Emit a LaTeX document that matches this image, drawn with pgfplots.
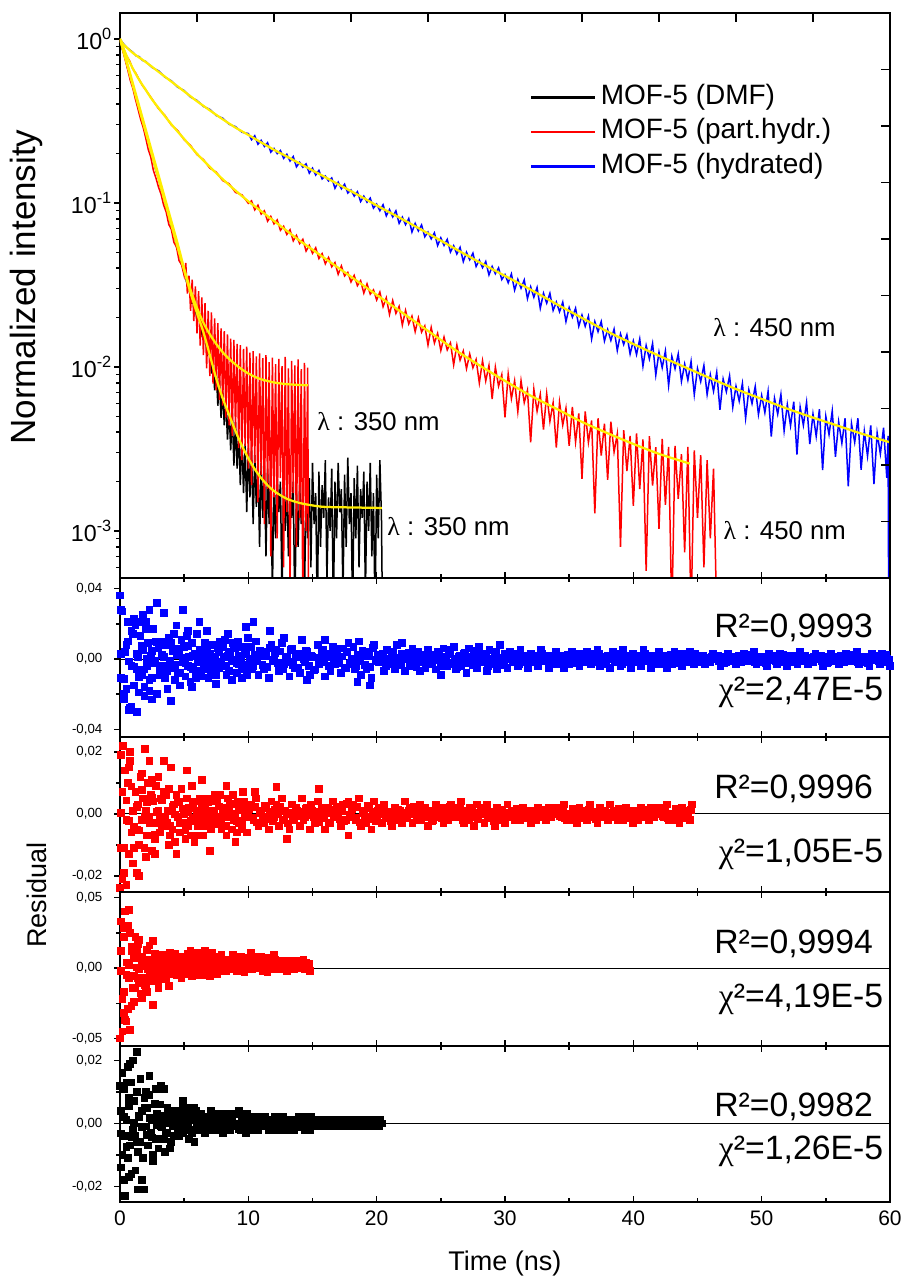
\documentclass[border=0pt]{standalone}
\usepackage{fontspec}
\setmainfont{Liberation Sans}
\newfontfamily\greekfont{Liberation Serif}
\usepackage{pgfplots}
\pgfplotsset{compat=1.18}

\definecolor{fityellow}{RGB}{255,238,0}
\definecolor{pblue}{RGB}{0,0,255}
\definecolor{pred}{RGB}{255,0,0}

\pgfplotsset{
  panel/.style={
    anchor=north west, scale only axis, width=308pt,
    xmin=0, xmax=60,
    axis line style={line width=0.6pt},
    every tick/.style={black, line width=0.6pt},
    major tick length=2.3pt, minor tick length=1.5pt,
    xtick={0,10,...,60}, minor xtick={5,15,...,55},
    xtick align=inside, ytick align=outside,
    xtick pos=both, ytick pos=left,
    xticklabels={}, scaled y ticks=false,
    yticklabel style={font=\fontsize{5.3}{6}\selectfont, inner xsep=4.6pt},
  },
  res/.style={only marks, mark=square*, mark size=1.35pt, forget plot},
  zero/.style={black, line width=0.4pt, no marks, forget plot},
  decay/.style={line width=0.6pt, no marks, forget plot},
  fit/.style={fityellow, line width=0.9pt, no marks, forget plot, smooth},
}
\tikzset{
  lamlabel/.style={anchor=west, inner sep=0pt, font=\fontsize{10.3}{12}\selectfont},
  stat/.style={anchor=east, inner sep=0pt, font=\fontsize{13.5}{15}\selectfont},
}

\newcommand\lam{{\greekfont λ}}
\newcommand\chisq{{\greekfont χ}²}

\begin{document}
\begin{tikzpicture}
\useasboundingbox (-48pt,5.2pt) rectangle (314.4pt,-508pt);

% ---------------- decay curves ----------------
\begin{axis}[panel, at={(0pt,0pt)}, height=226pt,
  ymode=log, ymin=5.16e-4, ymax=1.44,
  xtick pos=bottom,
  ytick={0.001,0.01,0.1,1},
  yticklabels={10\textsuperscript{-3},10\textsuperscript{-2},10\textsuperscript{-1},10\textsuperscript{0}},
  minor ytick={0.0006,0.0007,0.0008,0.0009,0.002,0.003,0.004,0.005,0.006,0.007,0.008,0.009,0.02,0.03,0.04,0.05,0.06,0.07,0.08,0.09,0.2,0.3,0.4,0.5,0.6,0.7,0.8,0.9},
  yticklabel style={font=\fontsize{9.3}{11}\selectfont, inner xsep=0.5pt},
  ylabel={Normalized intensity},
  ylabel style={font=\fontsize{14}{16}\selectfont, at={(axis description cs:-0.122,0.515)}, anchor=center},
  legend style={draw=none, fill=none, at={(axis description cs:0.532,0.882)}, anchor=north west,
    font=\fontsize{11.2}{13}\selectfont, inner sep=0pt, row sep=0pt,
    nodes={text height=7.8pt, text depth=2.4pt, inner sep=1.8pt}},
  legend cell align=left,
  legend image code/.code={\draw[#1] (0pt,0pt) -- (25.6pt,0pt);},
  legend entries={MOF-5 (DMF), MOF-5 (part.hydr.), MOF-5 (hydrated)},
]
\addlegendimage{black, line width=0.9pt}
\addlegendimage{pred, line width=0.9pt}
\addlegendimage{pblue, line width=0.9pt}

% MOF-5 (DMF), 350 nm
\addplot[decay, black] coordinates {
(0,1.0) (0.2,0.86) (0.4,0.77) (0.6,0.66) (0.8,0.6) (1,0.52) (1.2,0.46) (1.4,0.41) (1.6,0.35) (1.8,0.315)
(2,0.27) (2.2,0.245) (2.4,0.205) (2.6,0.183) (2.8,0.157) (3,0.142) (3.2,0.121) (3.4,0.110) (3.6,0.092) (3.8,0.0845)
(4,0.071) (4.2,0.066) (4.4,0.054) (4.6,0.0505) (4.8,0.042) (5,0.0395) (5.2,0.0325) (5.4,0.0305) (5.6,0.0245) (5.8,0.0245)
(6,0.0195) (6.2,0.0205) (6.4,0.0155) (6.6,0.0162) (6.8,0.0118) (7,0.0125)
(7.125,0.0091) (7.25,0.0112) (7.375,0.0072) (7.5,0.0094) (7.625,0.0058) (7.75,0.0083) (7.875,0.0049) (8,0.0071)
(8.125,0.0044) (8.25,0.0063) (8.375,0.0036) (8.5,0.0056) (8.625,0.0031) (8.75,0.0052) (8.875,0.0025) (9,0.0046)
(9.125,0.0024) (9.25,0.0041) (9.375,0.0019) (9.5,0.0038) (9.625,0.0017) (9.75,0.0034) (9.875,0.0013) (10,0.0032)
(10.125,0.0016) (10.25,0.0031) (10.375,0.0011) (10.5,0.0029) (10.625,0.0014) (10.75,0.0027) (10.875,0.0008) (11,0.0026)
(11.125,0.0012) (11.25,0.0025) (11.375,0.0007) (11.5,0.0024) (11.625,0.0011) (11.75,0.0023) (11.875,0.0004) (12,0.0022)
(12.125,0.0009) (12.25,0.0021) (12.375,0.0013) (12.5,0.0020) (12.625,0.0004) (12.75,0.0021) (12.875,0.0010) (13,0.0019)
(13.125,0.0007) (13.25,0.0018) (13.375,0.0012) (13.5,0.0020) (13.625,0.0003) (13.75,0.0017) (13.875,0.0008) (14,0.0019)
(14.125,0.0011) (14.25,0.0016) (14.375,0.0004) (14.5,0.0018) (14.625,0.0009) (14.75,0.0021) (14.875,0.0006) (15,0.0026)
(15.125,0.0011) (15.25,0.0017) (15.375,0.0003) (15.5,0.0023) (15.625,0.0008) (15.75,0.0019) (15.875,0.0012) (16,0.0027)
(16.125,0.0005) (16.25,0.0016) (16.375,0.0010) (16.5,0.0024) (16.625,0.0003) (16.75,0.0020) (16.875,0.0009) (17,0.0026)
(17.125,0.0013) (17.25,0.0018) (17.375,0.0004) (17.5,0.0022) (17.625,0.0008) (17.75,0.0028) (17.875,0.0011) (18,0.0017)
(18.125,0.0003) (18.25,0.0021) (18.375,0.0009) (18.5,0.0025) (18.625,0.0006) (18.75,0.0018) (18.875,0.0012) (19,0.0023)
(19.125,0.0004) (19.25,0.0020) (19.375,0.0010) (19.5,0.0026) (19.625,0.0007) (19.75,0.0017) (19.875,0.0003) (20,0.0022)
(20.125,0.0009) (20.25,0.0027) (20.375,0.0012) (20.45,0.0003)
};

% MOF-5 (part.hydr.), 350 nm
\addplot[decay, pred] coordinates {
(0,1.0) (0.2,0.86) (0.4,0.75) (0.6,0.65) (0.8,0.56) (1,0.5) (1.2,0.43) (1.4,0.375) (1.6,0.325) (1.8,0.29)
(2,0.25) (2.2,0.212) (2.4,0.19) (2.6,0.158) (2.8,0.142) (3,0.125) (3.2,0.113) (3.4,0.097) (3.6,0.088) (3.8,0.074)
(4,0.069) (4.2,0.0575) (4.4,0.054) (4.6,0.0445) (4.8,0.042) (5,0.036)
(5.125,0.043) (5.25,0.028) (5.375,0.036) (5.5,0.022) (5.625,0.034) (5.75,0.019) (5.875,0.031) (6,0.016)
(6.125,0.029) (6.25,0.0135) (6.375,0.0265) (6.5,0.0118) (6.625,0.0245) (6.75,0.0098) (6.875,0.022) (7,0.0088)
(7.125,0.0215) (7.25,0.0079) (7.375,0.0198) (7.5,0.0072) (7.625,0.0185) (7.75,0.0063) (7.875,0.0172) (8,0.0058)
(8.125,0.0165) (8.25,0.0049) (8.375,0.0158) (8.5,0.0044) (8.625,0.0149) (8.75,0.0038) (8.875,0.0146) (9,0.0041)
(9.125,0.0138) (9.25,0.0032) (9.375,0.0136) (9.5,0.0027) (9.625,0.0129) (9.75,0.0033) (9.875,0.0133) (10,0.0024)
(10.125,0.0122) (10.25,0.0019) (10.375,0.0125) (10.5,0.0026) (10.625,0.0116) (10.75,0.0015) (10.875,0.0121) (11,0.0022)
(11.125,0.0113) (11.25,0.0011) (11.375,0.0118) (11.5,0.0018) (11.625,0.0107) (11.75,0.0007) (11.875,0.0114) (12,0.0016)
(12.125,0.0104) (12.25,0.0009) (12.375,0.0112) (12.5,0.0021) (12.625,0.0101) (12.75,0.0006) (12.875,0.0115) (13,0.0013)
(13.125,0.0098) (13.25,0.0004) (13.375,0.0109) (13.5,0.0017) (13.625,0.0102) (13.75,0.0008) (13.875,0.0111) (14,0.0012)
(14.125,0.0097) (14.25,0.0003) (14.375,0.0106) (14.5,0.0010) (14.625,0.0099) (14.7,0.0003)
};

% MOF-5 (part.hydr.), 450 nm
\addplot[decay, pred] coordinates {
(0,1.0) (0.25,0.89) (0.5,0.79) (0.75,0.735) (1,0.655) (1.25,0.615) (1.5,0.565) (1.75,0.52) (2,0.49) (2.5,0.43)
(3,0.376) (3.5,0.342) (4,0.299) (4.5,0.276) (5,0.243) (5.5,0.224) (6,0.197) (6.5,0.184) (7,0.163) (7.5,0.154)
(8,0.137) (8.5,0.131) (9,0.116) (9.5,0.112) (10,0.0995)
(10.25,0.103) (10.5,0.0907) (10.75,0.0969) (11,0.0855) (11.25,0.0895) (11.5,0.0774) (11.75,0.0828) (12,0.0745)
(12.25,0.0788) (12.5,0.0681) (12.75,0.0721) (13,0.0642) (13.25,0.0686) (13.5,0.0587) (13.75,0.0634) (14,0.0565)
(14.25,0.0600) (14.5,0.0509) (14.75,0.0552) (15,0.0493) (15.25,0.0533) (15.5,0.0458) (15.75,0.0491) (16,0.0425)
(16.25,0.0465) (16.5,0.0408) (16.75,0.0433) (17,0.0367) (17.25,0.0413) (17.5,0.0359) (17.75,0.0377) (18,0.0330)
(18.25,0.0361) (18.5,0.0313) (18.75,0.0336) (19,0.0282) (19.25,0.0321) (19.5,0.0278) (19.75,0.0295) (20,0.0256)
(20.25,0.0286) (20.5,0.0233) (20.75,0.0264) (21,0.0209) (21.25,0.0254) (21.5,0.0212) (21.75,0.0234) (22,0.0180)
(22.25,0.0221) (22.5,0.0183) (22.75,0.0204) (23,0.0164) (23.25,0.0199) (23.5,0.0163) (23.75,0.0178) (24,0.0136)
(24.25,0.0174) (24.5,0.0140) (24.75,0.0160) (25,0.0126) (25.25,0.0152) (25.5,0.0127) (25.75,0.0140) (26,0.0103)
(26.25,0.0136) (26.5,0.0110) (26.75,0.0125) (27,0.00976) (27.25,0.0120) (27.5,0.00988) (27.75,0.0111) (28,0.00798)
(28.25,0.0109) (28.5,0.00822) (28.75,0.0102) (29,0.00638) (29.25,0.00997) (29.5,0.00763) (29.75,0.00896) (30,0.00493)
(30.25,0.00906) (30.5,0.00641) (30.75,0.00822) (31,0.00534) (31.25,0.00824) (31.5,0.00606) (31.75,0.0072) (32,0.00347)
(32.25,0.00731) (32.5,0.00537) (32.75,0.0068) (33,0.00415) (33.25,0.00687) (33.5,0.00466) (33.75,0.00604) (34,0.00322)
(34.25,0.00609) (34.5,0.00442) (34.75,0.0056) (35,0.0033) (35.25,0.0057) (35.5,0.00349) (35.75,0.0052) (36,0.00208)
(36.25,0.00535) (36.5,0.00347) (36.75,0.00471) (37,0.00128) (37.25,0.00486) (37.5,0.00288) (37.75,0.0045) (38,0.00205)
(38.25,0.00463) (38.5,0.00303) (38.75,0.0039) (39,0.0008) (39.25,0.00411) (39.5,0.00232) (39.75,0.0038) (40,0.00142)
(40.25,0.00393) (40.5,0.0018) (40.75,0.00361) (41,0.00057) (41.25,0.00378) (41.5,0.00189) (41.75,0.00324) (42,0.00103)
(42.25,0.00364) (42.5,0.00144) (42.75,0.00325) (43,0.0003) (43.25,0.0033) (43.5,0.00157) (43.75,0.00294) (44,0.00074)
(44.25,0.00325) (44.5,0.0003) (44.75,0.0031) (45,0.0012) (45.25,0.0029) (45.5,0.0006) (45.75,0.0027) (46,0.0009)
(46.25,0.0024) (46.5,0.0003)
};

% MOF-5 (hydrated), 450 nm
\addplot[decay, pblue] coordinates {
(0,1.0) (0.25,0.94) (0.5,0.89) (0.75,0.86) (1,0.83) (1.25,0.79) (1.5,0.78) (1.75,0.74) (2,0.73) (2.5,0.67)
(3,0.64) (3.5,0.585) (4,0.556) (4.5,0.508) (5,0.485) (5.5,0.442) (6,0.422) (6.5,0.388) (7,0.372) (7.5,0.341)
(8,0.329) (8.5,0.302) (9,0.292) (9.5,0.270) (10,0.265)
(10.25,0.243) (10.5,0.257) (10.75,0.228) (11,0.241) (11.25,0.221) (11.5,0.233) (11.75,0.204) (12,0.215)
(12.25,0.200) (12.5,0.209) (12.75,0.187) (13,0.198) (13.25,0.180) (13.5,0.192) (13.75,0.166) (14,0.177)
(14.25,0.165) (14.5,0.173) (14.75,0.152) (15,0.163) (15.25,0.148) (15.5,0.158) (15.75,0.140) (16,0.146)
(16.25,0.136) (16.5,0.142) (16.75,0.123) (17,0.134) (17.25,0.122) (17.5,0.130) (17.75,0.115) (18,0.120)
(18.25,0.110) (18.5,0.117) (18.75,0.102) (19,0.110) (19.25,0.101) (19.5,0.107) (19.75,0.093) (20,0.0985)
(20.25,0.0896) (20.5,0.0975) (20.75,0.0835) (21,0.0912) (21.25,0.0822) (21.5,0.0895) (21.75,0.0751) (22,0.0820)
(22.25,0.0738) (22.5,0.0803) (22.75,0.0665) (23,0.0750) (23.25,0.0675) (23.5,0.0734) (23.75,0.0622) (24,0.0665)
(24.25,0.0604) (24.5,0.0657) (24.75,0.0550) (25,0.0613) (25.25,0.0551) (25.5,0.0599) (25.75,0.0502) (26,0.0548)
(26.25,0.0488) (26.5,0.0536) (26.75,0.0439) (27,0.0500) (27.25,0.0450) (27.5,0.0494) (27.75,0.0410) (28,0.0448)
(28.25,0.0403) (28.5,0.0439) (28.75,0.0364) (29,0.0410) (29.25,0.0370) (29.5,0.0402) (29.75,0.0341) (30,0.0366)
(30.25,0.0326) (30.5,0.0369) (30.75,0.0294) (31,0.0342) (31.25,0.0302) (31.5,0.0339) (31.75,0.0261) (32,0.0308)
(32.25,0.0266) (32.5,0.0305) (32.75,0.0228) (33,0.0281) (33.25,0.0245) (33.5,0.0281) (33.75,0.0221) (34,0.0249)
(34.25,0.0217) (34.5,0.0248) (34.75,0.0189) (35,0.0230) (35.25,0.0201) (35.5,0.0228) (35.75,0.0177) (36,0.0207)
(36.25,0.0177) (36.5,0.0204) (36.75,0.0148) (37,0.0189) (37.25,0.0164) (37.5,0.0189) (37.75,0.0144) (38,0.0169)
(38.25,0.0145) (38.5,0.0170) (38.75,0.0126) (39,0.0159) (39.25,0.0137) (39.5,0.0157) (39.75,0.0120) (40,0.0144)
(40.25,0.0119) (40.5,0.0148) (40.75,0.0101) (41,0.0135) (41.25,0.0112) (41.5,0.0139) (41.75,0.00893) (42,0.0123)
(42.25,0.00989) (42.5,0.0125) (42.75,0.0077) (43,0.0116) (43.25,0.00975) (43.5,0.0120) (43.75,0.00816) (44,0.0104)
(44.25,0.00832) (44.5,0.0108) (44.75,0.00678) (45,0.00978) (45.25,0.00815) (45.5,0.0102) (45.75,0.00679) (46,0.00896)
(46.25,0.00711) (46.5,0.00928) (46.75,0.00547) (47,0.00844) (47.25,0.00705) (47.5,0.00883) (47.75,0.00568) (48,0.00762)
(48.25,0.0062) (48.5,0.00793) (48.75,0.00487) (49,0.00725) (49.25,0.00598) (49.5,0.0076) (49.75,0.00513) (50,0.0067)
(50.25,0.00527) (50.5,0.0071) (50.75,0.00376) (51,0.00644) (51.25,0.00516) (51.5,0.0068) (51.75,0.00408) (52,0.00589)
(52.25,0.00438) (52.5,0.00613) (52.75,0.00292) (53,0.00568) (53.25,0.00441) (53.5,0.00607) (53.75,0.00339) (54,0.00516)
(54.25,0.00378) (54.5,0.00552) (54.75,0.00235) (55,0.00499) (55.25,0.00387) (55.5,0.00539) (55.75,0.00283) (56,0.00462)
(56.25,0.00343) (56.5,0.00486) (56.75,0.00187) (57,0.00451) (57.25,0.00347) (57.5,0.00486) (57.75,0.00236) (58,0.00406)
(58.25,0.00286) (58.5,0.0044) (58.75,0.00193) (59,0.00395) (59.25,0.00295) (59.5,0.00426) (59.75,0.00211) (59.85,0.0038)
(59.9,0.0003) (60,0.0035)
};

% fitted curves
\addplot[fit] coordinates {
(0,1) (0.5,0.721) (1,0.519) (1.5,0.374) (2,0.27) (2.5,0.1945) (3,0.1404) (3.5,0.1014) (4,0.0734) (4.5,0.0532)
(5,0.0387) (5.5,0.0282) (6,0.0213) (6.5,0.0163) (7,0.0118) (7.5,0.0085) (8,0.00645) (8.5,0.00511) (9,0.00406)
(9.5,0.00331) (10,0.00277) (10.5,0.00238) (11,0.0021) (11.5,0.0019) (12,0.00175) (13,0.00157) (14,0.00148)
(15,0.00143) (16,0.0014) (18,0.00139) (20.4,0.00138)
};
\addplot[fit] coordinates {
(0,1) (0.5,0.741) (1,0.537) (1.5,0.389) (2,0.282) (2.5,0.204) (3,0.148) (3.5,0.107) (4,0.0776) (4.5,0.0562)
(5,0.0398) (5.5,0.0295) (6,0.0229) (6.5,0.0186) (7,0.0158) (7.5,0.0138) (8,0.0123) (8.5,0.0112) (9,0.01035)
(9.5,0.00966) (10,0.00912) (10.5,0.00871) (11,0.00841) (12,0.00804) (13,0.00785) (14,0.00776) (14.65,0.00773)
};
\addplot[fit] coordinates {
(0,1) (0.5,0.794) (1,0.661) (1.5,0.562) (2,0.49) (2.5,0.427) (3,0.38) (4,0.302) (5,0.2455) (6,0.1995) (7,0.166)
(8,0.1396) (9,0.119) (10,0.1023) (11,0.0891) (12,0.0776) (13,0.0676) (14,0.0589) (15,0.0519) (16,0.0457)
(18,0.0355) (20,0.0275) (22,0.0214) (24,0.0166) (26,0.01288) (28,0.01023) (30,0.00822) (32,0.00668) (34,0.00556)
(36,0.00462) (38,0.00394) (40,0.00339) (42,0.00295) (44,0.00263) (44.4,0.00257)
};
\addplot[fit] coordinates {
(0,1) (0.25,0.93) (0.5,0.891) (1,0.822) (1.5,0.77) (2,0.724) (3,0.631) (4,0.55) (5,0.479) (6,0.417) (7,0.367)
(8,0.324) (9,0.288) (10,0.26) (11,0.234) (12,0.211) (13,0.192) (14,0.174) (15,0.158) (16,0.1435) (17,0.13)
(18,0.118) (19,0.107) (20,0.0966) (22,0.0796) (24,0.0652) (26,0.0532) (28,0.0435) (30,0.0359) (32,0.0296)
(34,0.0242) (36,0.0199) (38,0.0164) (40,0.0138) (42,0.0117) (44,0.00998) (46,0.00853) (48,0.00733) (50,0.00638)
(52,0.00556) (54,0.00491) (56,0.00436) (58,0.00387) (60,0.00347)
};

\node[lamlabel] at (axis cs:46.2,0.0173) {\lam{} : 450 nm};
\node[lamlabel] at (axis cs:47.0,0.00101) {\lam{} : 450 nm};
\node[lamlabel] at (axis cs:15.35,0.00462) {\lam{} : 350 nm};
\node[lamlabel] at (axis cs:20.8,0.00106) {\lam{} : 350 nm};
\end{axis}

% opposite axes of the top panel, evenly divided
\begin{axis}[anchor=north west, at={(0pt,0pt)}, scale only axis, width=308pt, height=226pt,
  xmin=0, xmax=10, ymin=0, ymax=10,
  axis x line*=top, axis y line*=right,
  axis line style={line width=0.6pt, -},
  every tick/.style={black, line width=0.6pt},
  tick align=inside, major tick length=3.8pt,
  xtick={1,...,9}, ytick={1,...,9}, xticklabels={}, yticklabels={}]
\end{axis}

% ---------------- residuals: hydrated 450 nm ----------------
\begin{axis}[panel, at={(0pt,-226pt)}, height=63.6pt,
  ymin=-0.0443, ymax=0.046,
  ytick={-0.04,0,0.04}, yticklabels={{-0,04},{0,00},{0,04}}, minor ytick={-0.02,0.02}]
\addplot[res, pblue] coordinates {
(0.0,0.036) (0.1,-0.011) (0.2,0.027) (0.3,-0.023) (0.4,0.004) (0.5,-0.017) (0.6,0.010) (0.7,-0.029) (0.8,0.021) (0.9,-0.004)
(1.0,0.014) (1.1,-0.015) (1.2,0.019) (1.3,-0.006) (1.4,0.001) (1.5,-0.019) (1.6,0.013) (1.7,-0.009) (1.8,0.005) (1.9,-0.016)
(2.0,0.021) (2.1,-0.004) (2.2,0.009) (2.3,-0.018) (2.4,0.002) (2.5,-0.011) (2.6,0.017) (2.7,-0.001) (2.8,0.010) (2.9,-0.020)
(3.0,0.006) (3.1,-0.009) (3.2,0.010) (3.3,-0.004) (3.4,0.001) (3.5,-0.011) (3.6,0.008) (3.7,-0.007) (3.8,0.012) (3.9,-0.002)
(4.0,0.009) (4.1,-0.005) (4.2,0.014) (4.3,-0.012) (4.4,0.002) (4.5,-0.008) (4.6,0.005) (4.7,-0.015) (4.8,0.011) (4.9,-0.002)
(5.0,0.007) (5.1,-0.010) (5.2,0.013) (5.3,-0.004) (5.4,0.001) (5.5,-0.013) (5.6,0.009) (5.7,-0.006) (5.8,0.003) (5.9,-0.011)
(6.0,0.014) (6.1,-0.002) (6.2,0.005) (6.3,-0.010) (6.4,0.001) (6.5,-0.006) (6.6,0.009) (6.7,-0.001) (6.8,0.005) (6.9,-0.011)
(7.0,0.003) (7.1,-0.007) (7.2,0.008) (7.3,-0.003) (7.4,0.001) (7.5,-0.009) (7.6,0.006) (7.7,-0.005) (7.8,0.010) (7.9,-0.002)
(8.0,0.007) (8.1,-0.004) (8.2,0.011) (8.3,-0.009) (8.4,0.002) (8.5,-0.007) (8.6,0.004) (8.7,-0.012) (8.8,0.009) (8.9,-0.001)
(9.0,0.006) (9.1,-0.008) (9.2,0.010) (9.3,-0.003) (9.4,0.001) (9.5,-0.011) (9.6,0.007) (9.7,-0.005) (9.8,0.003) (9.9,-0.009)
(10.0,0.012)
(0.05,0.028) (0.6,0.021) (0.8,-0.028) (1.3,-0.030) (0.9,-0.027) (1.1,0.023) (1.6,0.021) (1.8,0.025) (2.3,0.028) (2.86,0.032)
(2.5,-0.023) (3.4,0.026) (4.0,-0.024) (4.9,0.028) (4.4,0.019) (3.7,-0.017) (5.6,-0.016) (6.2,0.021) (6.8,0.016) (7.5,-0.014)
(8.4,0.014) (9.8,0.018) (10.4,0.021) (11.7,0.016) (12.8,0.012) (14.6,-0.012) (18.5,-0.013) (19.5,-0.015) (0.3,-0.020) (1.9,-0.021)
(2.0,0.017) (5.3,0.016) (16.0,0.011) (22,0.009) (25,-0.009)
(10.2,0.007) (10.4,-0.004) (10.6,0.010) (10.8,-0.009) (11.0,0.002) (11.2,-0.006) (11.4,0.004) (11.6,-0.011) (11.8,0.008) (12.0,-0.001)
(12.2,0.005) (12.4,-0.007) (12.6,0.009) (12.8,-0.003) (13.0,0.001) (13.2,-0.010) (13.4,0.006) (13.6,-0.005) (13.8,0.003) (14.0,-0.008)
(14.2,0.011) (14.4,-0.002) (14.6,0.004) (14.8,-0.009) (15.0,0.001) (15.2,-0.006) (15.4,0.008) (15.6,-0.001) (15.8,0.005) (16.0,-0.010)
(16.2,0.003) (16.4,-0.007) (16.6,0.007) (16.8,-0.003) (17.0,0.001) (17.2,-0.008) (17.4,0.006) (17.6,-0.005) (17.8,0.009) (18.0,-0.002)
(18.2,0.007) (18.4,-0.004) (18.6,0.010) (18.8,-0.009) (19.0,0.002) (19.2,-0.006) (19.4,0.004) (19.6,-0.011) (19.8,0.008) (20.0,-0.001)
(20.2,-0.002) (20.4,0.000) (20.6,-0.007) (20.8,0.005) (21.0,-0.003) (21.2,0.002) (21.4,-0.006) (21.6,0.008) (21.8,-0.001) (22.0,0.003)
(22.2,-0.007) (22.4,0.001) (22.6,-0.004) (22.8,0.006) (23.0,0.000) (23.2,0.004) (23.4,-0.007) (23.6,0.002) (23.8,-0.005) (24.0,0.005)
(24.2,-0.002) (24.4,0.001) (24.6,-0.006) (24.8,0.004) (25.0,-0.004) (25.2,0.006) (25.4,-0.001) (25.6,0.005) (25.8,-0.003) (26.0,0.007)
(26.2,-0.006) (26.4,0.001) (26.6,-0.004) (26.8,0.003) (27.0,-0.008) (27.2,0.006) (27.4,-0.001) (27.6,0.004) (27.8,-0.005) (28.0,0.007)
(28.2,-0.002) (28.4,0.000) (28.6,-0.007) (28.8,0.005) (29.0,-0.003) (29.2,0.002) (29.4,-0.006) (29.6,0.008) (29.8,-0.001) (30.0,0.003)
(30.2,-0.005) (30.4,0.004) (30.6,-0.001) (30.8,0.003) (31.0,-0.004) (31.2,0.005) (31.4,-0.002) (31.6,0.000) (31.8,-0.005) (32.0,0.003)
(32.2,-0.002) (32.4,0.001) (32.6,-0.004) (32.8,0.005) (33.0,-0.001) (33.2,0.002) (33.4,-0.005) (33.6,0.001) (33.8,-0.003) (34.0,0.004)
(34.2,0.000) (34.4,0.002) (34.6,-0.005) (34.8,0.002) (35.0,-0.003) (35.2,0.004) (35.4,-0.001) (35.6,0.000) (35.8,-0.004) (36.0,0.003)
(36.2,-0.002) (36.4,0.004) (36.6,-0.001) (36.8,0.003) (37.0,-0.002) (37.2,0.005) (37.4,-0.004) (37.6,0.001) (37.8,-0.003) (38.0,0.002)
(38.2,-0.005) (38.4,0.004) (38.6,-0.001) (38.8,0.003) (39.0,-0.004) (39.2,0.005) (39.4,-0.002) (39.6,0.000) (39.8,-0.005) (40.0,0.003)
(40.2,-0.002) (40.4,0.001) (40.6,-0.004) (40.8,0.005) (41.0,-0.001) (41.2,0.002) (41.4,-0.005) (41.6,0.001) (41.8,-0.003) (42.0,0.004)
(42.2,0.000) (42.4,0.002) (42.6,-0.005) (42.8,0.002) (43.0,-0.003) (43.2,0.004) (43.4,-0.001) (43.6,0.000) (43.8,-0.004) (44.0,0.003)
(44.2,-0.002) (44.4,0.004) (44.6,-0.001) (44.8,0.003) (45.0,-0.002) (45.2,-0.001) (45.4,0.002) (45.6,-0.003) (45.8,0.000) (46.0,-0.002)
(46.2,0.003) (46.4,0.000) (46.6,0.002) (46.8,-0.004) (47.0,0.001) (47.2,-0.002) (47.4,0.003) (47.6,-0.001) (47.8,0.000) (48.0,-0.003)
(48.2,0.002) (48.4,-0.002) (48.6,0.003) (48.8,-0.001) (49.0,0.002) (49.2,-0.001) (49.4,0.004) (49.6,-0.003) (49.8,0.001) (50.0,-0.002)
(50.2,0.001) (50.4,-0.004) (50.6,0.003) (50.8,0.000) (51.0,0.002) (51.2,-0.003) (51.4,0.003) (51.6,-0.001) (51.8,0.000) (52.0,-0.004)
(52.2,0.002) (52.4,-0.002) (52.6,0.001) (52.8,-0.003) (53.0,0.004) (53.2,-0.001) (53.4,0.002) (53.6,-0.003) (53.8,0.000) (54.0,-0.002)
(54.2,0.003) (54.4,0.000) (54.6,0.002) (54.8,-0.004) (55.0,0.001) (55.2,-0.002) (55.4,0.003) (55.6,-0.001) (55.8,0.000) (56.0,-0.003)
(56.2,0.002) (56.4,-0.002) (56.6,0.003) (56.8,-0.001) (57.0,0.002) (57.2,-0.001) (57.4,0.004) (57.6,-0.003) (57.8,0.001) (58.0,-0.002)
(58.2,0.001) (58.4,-0.004) (58.6,0.003) (58.8,0.000) (59.0,0.002) (59.2,-0.003) (59.4,0.003) (59.6,-0.001) (59.8,0.000) (60.0,-0.004)
};
\addplot[res, pblue] coordinates {
(0.1,0.0027) (0.3,-0.0112) (0.5,0.0079) (0.7,-0.0014) (0.9,0.0157) (1.1,-0.0043) (1.3,0.0027) (1.5,-0.0103) (1.7,0.0075) (1.9,-0.0060)
(2.1,0.0003) (2.3,-0.0118) (2.5,0.0047) (2.7,-0.0025) (2.9,0.0095) (3.1,-0.0049) (3.3,0.0024) (3.5,-0.0061) (3.7,0.0086) (3.9,-0.0010)
(4.1,0.0044) (4.3,-0.0033) (4.5,0.0058) (4.7,-0.0077) (4.9,0.0005) (5.1,-0.0023) (5.3,0.0073) (5.5,-0.0044) (5.7,0.0015) (5.9,-0.0065)
(6.1,0.0029) (6.3,-0.0002) (6.5,0.0048) (6.7,-0.0041) (6.9,0.0022) (7.1,-0.0067) (7.3,0.0008) (7.5,-0.0029) (7.7,0.0039) (7.9,-0.0015)
(8.1,0.0011) (8.3,-0.0043) (8.5,0.0031) (8.7,-0.0006) (8.9,0.0061) (9.1,-0.0023) (9.3,0.0015) (9.5,-0.0055) (9.7,0.0041) (9.9,-0.0032)
(10.1,0.0001) (10.3,-0.0060) (10.5,0.0024) (10.7,-0.0013) (10.9,0.0048) (11.1,-0.0036) (11.3,0.0018) (11.5,-0.0045) (11.7,0.0063) (11.9,-0.0007)
(12.1,0.0032) (12.3,-0.0024) (12.5,0.0042) (12.7,-0.0056) (12.9,0.0004) (13.1,-0.0017) (13.3,0.0053) (13.5,-0.0032) (13.7,0.0011) (13.9,-0.0048)
(14.1,0.0027) (14.3,-0.0002) (14.5,0.0046) (14.7,-0.0038) (14.9,0.0020) (15.1,-0.0063) (15.3,0.0008) (15.5,-0.0028) (15.7,0.0036) (15.9,-0.0015)
(16.1,0.0010) (16.3,-0.0041) (16.5,0.0029) (16.7,-0.0005) (16.9,0.0057) (17.1,-0.0022) (17.3,0.0014) (17.5,-0.0052) (17.7,0.0038) (17.9,-0.0030)
(18.1,0.0001) (18.3,-0.0060) (18.5,0.0024) (18.7,-0.0013) (18.9,0.0048) (19.1,-0.0036) (19.3,0.0018) (19.5,-0.0045) (19.7,0.0063) (19.9,-0.0007)
(20.1,0.0024) (20.3,-0.0018) (20.5,0.0031) (20.7,-0.0041) (20.9,0.0003) (21.1,-0.0012) (21.3,0.0039) (21.5,-0.0024) (21.7,0.0008) (21.9,-0.0035)
(22.1,0.0020) (22.3,-0.0001) (22.5,0.0033) (22.7,-0.0028) (22.9,0.0015) (23.1,-0.0046) (23.3,0.0006) (23.5,-0.0020) (23.7,0.0026) (23.9,-0.0011)
(24.1,0.0007) (24.3,-0.0030) (24.5,0.0021) (24.7,-0.0004) (24.9,0.0042) (25.1,-0.0016) (25.3,0.0010) (25.5,-0.0038) (25.7,0.0028) (25.9,-0.0022)
(26.1,0.0001) (26.3,-0.0044) (26.5,0.0017) (26.7,-0.0009) (26.9,0.0035) (27.1,-0.0026) (27.3,0.0013) (27.5,-0.0033) (27.7,0.0046) (27.9,-0.0005)
(28.1,0.0024) (28.3,-0.0018) (28.5,0.0031) (28.7,-0.0041) (28.9,0.0003) (29.1,-0.0012) (29.3,0.0039) (29.5,-0.0024) (29.7,0.0008) (29.9,-0.0035)
(30.1,0.0014) (30.3,-0.0001) (30.5,0.0023) (30.7,-0.0019) (30.9,0.0010) (31.1,-0.0031) (31.3,0.0004) (31.5,-0.0014) (31.7,0.0018) (31.9,-0.0007)
(32.1,0.0005) (32.3,-0.0020) (32.5,0.0015) (32.7,-0.0003) (32.9,0.0029) (33.1,-0.0011) (33.3,0.0007) (33.5,-0.0026) (33.7,0.0019) (33.9,-0.0015)
(34.1,0.0001) (34.3,-0.0030) (34.5,0.0012) (34.7,-0.0006) (34.9,0.0024) (35.1,-0.0018) (35.3,0.0009) (35.5,-0.0022) (35.7,0.0031) (35.9,-0.0004)
(36.1,0.0016) (36.3,-0.0012) (36.5,0.0021) (36.7,-0.0028) (36.9,0.0002) (37.1,-0.0009) (37.3,0.0027) (37.5,-0.0016) (37.7,0.0006) (37.9,-0.0024)
(38.1,0.0014) (38.3,-0.0001) (38.5,0.0023) (38.7,-0.0019) (38.9,0.0010) (39.1,-0.0031) (39.3,0.0004) (39.5,-0.0014) (39.7,0.0018) (39.9,-0.0007)
(40.1,0.0005) (40.3,-0.0020) (40.5,0.0015) (40.7,-0.0003) (40.9,0.0029) (41.1,-0.0011) (41.3,0.0007) (41.5,-0.0026) (41.7,0.0019) (41.9,-0.0015)
(42.1,0.0001) (42.3,-0.0030) (42.5,0.0012) (42.7,-0.0006) (42.9,0.0024) (43.1,-0.0018) (43.3,0.0009) (43.5,-0.0022) (43.7,0.0031) (43.9,-0.0004)
(44.1,0.0016) (44.3,-0.0012) (44.5,0.0021) (44.7,-0.0028) (44.9,0.0002) (45.1,-0.0006) (45.3,0.0019) (45.5,-0.0012) (45.7,0.0004) (45.9,-0.0017)
(46.1,0.0010) (46.3,-0.0001) (46.5,0.0017) (46.7,-0.0014) (46.9,0.0007) (47.1,-0.0023) (47.3,0.0003) (47.5,-0.0010) (47.7,0.0013) (47.9,-0.0005)
(48.1,0.0004) (48.3,-0.0015) (48.5,0.0011) (48.7,-0.0002) (48.9,0.0021) (49.1,-0.0008) (49.3,0.0005) (49.5,-0.0019) (49.7,0.0014) (49.9,-0.0011)
(50.1,0.0000) (50.3,-0.0022) (50.5,0.0009) (50.7,-0.0005) (50.9,0.0018) (51.1,-0.0013) (51.3,0.0006) (51.5,-0.0016) (51.7,0.0023) (51.9,-0.0003)
(52.1,0.0012) (52.3,-0.0009) (52.5,0.0015) (52.7,-0.0020) (52.9,0.0001) (53.1,-0.0006) (53.3,0.0019) (53.5,-0.0012) (53.7,0.0004) (53.9,-0.0017)
(54.1,0.0010) (54.3,-0.0001) (54.5,0.0017) (54.7,-0.0014) (54.9,0.0007) (55.1,-0.0023) (55.3,0.0003) (55.5,-0.0010) (55.7,0.0013) (55.9,-0.0005)
(56.1,0.0004) (56.3,-0.0015) (56.5,0.0011) (56.7,-0.0002) (56.9,0.0021) (57.1,-0.0008) (57.3,0.0005) (57.5,-0.0019) (57.7,0.0014) (57.9,-0.0011)
(58.1,0.0000) (58.3,-0.0022) (58.5,0.0009) (58.7,-0.0005) (58.9,0.0018) (59.1,-0.0013) (59.3,0.0006) (59.5,-0.0016) (59.7,0.0023) (59.9,-0.0003)
};
\addplot[zero] coordinates {(0,0) (60,0)};
\node[stat] at (axis cs:58.7,0.0176) {R²=0,9993};
\node[stat] at (axis cs:59.5,-0.0187) {\chisq=2,47E-5};
\end{axis}

% ---------------- residuals: part. hydr. 450 nm ----------------
\begin{axis}[panel, at={(0pt,-289.6pt)}, height=62pt,
  ymin=-0.0252, ymax=0.0248,
  ytick={-0.02,0,0.02}, yticklabels={{-0,02},{0,00},{0,02}}, minor ytick={-0.01,0.01}]
\addplot[res, pred] coordinates {
(0.0,-0.024) (0.1,-0.011) (0.2,0.007) (0.3,-0.019) (0.4,0.014) (0.5,-0.002) (0.6,0.010) (0.7,-0.013) (0.8,0.017) (0.9,-0.006)
(1.0,0.001) (1.1,-0.011) (1.2,0.007) (1.3,-0.005) (1.4,0.003) (1.5,-0.010) (1.6,0.012) (1.7,-0.002) (1.8,0.005) (1.9,-0.011)
(2.0,0.001) (2.1,-0.007) (2.2,0.010) (2.3,-0.001) (2.4,0.006) (2.5,-0.012) (2.6,0.004) (2.7,-0.008) (2.8,0.009) (2.9,-0.003)
(3.0,0.001) (3.1,-0.006) (3.2,0.005) (3.3,-0.004) (3.4,0.007) (3.5,-0.001) (3.6,0.006) (3.7,-0.003) (3.8,0.008) (3.9,-0.007)
(4.0,0.001) (4.1,-0.005) (4.2,0.003) (4.3,-0.009) (4.4,0.006) (4.5,-0.001) (4.6,0.004) (4.7,-0.006) (4.8,0.008) (4.9,-0.003)
(5.0,0.000) (5.1,-0.008) (5.2,0.005) (5.3,-0.004) (5.4,0.002) (5.5,-0.007) (5.6,0.009) (5.7,-0.002) (5.8,0.004) (5.9,-0.007)
(6.0,0.001) (6.1,-0.004) (6.2,0.005) (6.3,0.000) (6.4,0.003) (6.5,-0.007) (6.6,0.002) (6.7,-0.004) (6.8,0.005) (6.9,-0.002)
(7.0,0.001) (7.1,-0.005) (7.2,0.004) (7.3,-0.003) (7.4,0.006) (7.5,-0.001) (7.6,0.004) (7.7,-0.002) (7.8,0.006) (7.9,-0.005)
(8.0,0.001) (8.1,-0.004) (8.2,0.002) (8.3,-0.007) (8.4,0.005) (8.5,-0.001) (8.6,0.003) (8.7,-0.005) (8.8,0.006) (8.9,-0.002)
(9.0,0.000) (9.1,-0.006) (9.2,0.004) (9.3,-0.003) (9.4,0.002) (9.5,-0.005) (9.6,0.007) (9.7,-0.001) (9.8,0.003) (9.9,-0.006)
(10.0,0.001)
(0.05,0.019) (0.2,-0.021) (0.26,0.022) (0.5,-0.023) (0.8,0.020) (1.0,-0.016) (1.3,-0.019) (1.5,-0.020) (1.95,0.021) (2.0,-0.014)
(2.3,0.017) (2.7,-0.013) (3.0,0.012) (3.4,0.017) (4.0,0.015) (4.4,-0.013) (5.2,0.014) (6.4,0.011) (7.0,-0.012) (8.3,0.009)
(9.0,-0.009) (12.2,0.0086) (13.0,-0.008) (15.5,0.008) (17.8,-0.007) (0.7,0.015) (1.7,0.013) (2.5,0.011) (3.8,-0.010) (5.8,-0.009)
(10.5,0.007)
(10.2,0.003) (10.4,-0.002) (10.6,0.005) (10.8,-0.004) (11.0,0.001) (11.2,-0.003) (11.4,0.002) (11.6,-0.005) (11.8,0.004) (12.0,-0.001)
(12.2,0.003) (12.4,-0.004) (12.6,0.005) (12.8,-0.002) (13.0,0.000) (13.2,-0.005) (13.4,0.003) (13.6,-0.002) (13.8,0.001) (14.0,-0.004)
(14.2,0.005) (14.4,-0.001) (14.6,0.002) (14.8,-0.005) (15.0,0.001) (15.2,-0.003) (15.4,0.004) (15.6,0.000) (15.8,0.002) (16.0,-0.005)
(16.2,0.002) (16.4,-0.003) (16.6,0.004) (16.8,-0.001) (17.0,0.000) (17.2,-0.004) (17.4,0.003) (17.6,-0.002) (17.8,0.004) (18.0,-0.001)
(18.2,0.003) (18.4,-0.002) (18.6,0.005) (18.8,-0.004) (19.0,0.001) (19.2,-0.003) (19.4,0.002) (19.6,-0.005) (19.8,0.004) (20.0,-0.001)
(20.2,0.002) (20.4,-0.003) (20.6,0.003) (20.8,-0.001) (21.0,0.000) (21.2,-0.004) (21.4,0.002) (21.6,-0.002) (21.8,0.001) (22.0,-0.003)
(22.2,0.004) (22.4,-0.001) (22.6,0.002) (22.8,-0.003) (23.0,0.000) (23.2,-0.002) (23.4,0.003) (23.6,0.000) (23.8,0.002) (24.0,-0.004)
(24.2,0.001) (24.4,-0.002) (24.6,0.003) (24.8,-0.001) (25.0,0.000) (25.2,-0.003) (25.4,0.002) (25.6,-0.002) (25.8,0.003) (26.0,-0.001)
(26.2,0.002) (26.4,-0.001) (26.6,0.004) (26.8,-0.003) (27.0,0.001) (27.2,-0.002) (27.4,0.001) (27.6,-0.004) (27.8,0.003) (28.0,0.000)
(28.2,0.002) (28.4,-0.003) (28.6,0.003) (28.8,-0.001) (29.0,0.000) (29.2,-0.004) (29.4,0.002) (29.6,-0.002) (29.8,0.001) (30.0,-0.003)
(30.2,0.003) (30.4,-0.001) (30.6,0.001) (30.8,-0.002) (31.0,0.000) (31.2,-0.002) (31.4,0.002) (31.6,0.000) (31.8,0.001) (32.0,-0.003)
(32.2,0.001) (32.4,-0.002) (32.6,0.002) (32.8,-0.001) (33.0,0.000) (33.2,-0.002) (33.4,0.002) (33.6,-0.001) (33.8,0.002) (34.0,0.000)
(34.2,0.002) (34.4,-0.001) (34.6,0.003) (34.8,-0.002) (35.0,0.000) (35.2,-0.002) (35.4,0.001) (35.6,-0.003) (35.8,0.002) (36.0,0.000)
(36.2,0.001) (36.4,-0.002) (36.6,0.003) (36.8,-0.001) (37.0,0.000) (37.2,-0.003) (37.4,0.002) (37.6,-0.001) (37.8,0.001) (38.0,-0.002)
(38.2,0.003) (38.4,-0.001) (38.6,0.001) (38.8,-0.002) (39.0,0.000) (39.2,-0.002) (39.4,0.002) (39.6,0.000) (39.8,0.001) (40.0,-0.003)
(40.2,0.001) (40.4,-0.002) (40.6,0.002) (40.8,-0.001) (41.0,0.000) (41.2,-0.002) (41.4,0.002) (41.6,-0.001) (41.8,0.002) (42.0,0.000)
(42.2,0.002) (42.4,-0.001) (42.6,0.003) (42.8,-0.002) (43.0,0.000) (43.2,-0.002) (43.4,0.001) (43.6,-0.003) (43.8,0.002) (44.0,0.000)
(44.2,0.001) (44.4,-0.002) (44.6,0.003)
};
\addplot[res, pred] coordinates {
(0.1,0.0002) (0.3,-0.0109) (0.5,0.0043) (0.7,-0.0023) (0.9,0.0088) (1.1,-0.0043) (1.3,0.0022) (1.5,-0.0054) (1.7,0.0076) (1.9,-0.0009)
(2.1,0.0039) (2.3,-0.0030) (2.5,0.0051) (2.7,-0.0068) (2.9,0.0005) (3.1,-0.0014) (3.3,0.0044) (3.5,-0.0026) (3.7,0.0009) (3.9,-0.0039)
(4.1,0.0022) (4.3,-0.0002) (4.5,0.0037) (4.7,-0.0031) (4.9,0.0017) (5.1,-0.0051) (5.3,0.0006) (5.5,-0.0023) (5.7,0.0030) (5.9,-0.0012)
(6.1,0.0006) (6.3,-0.0026) (6.5,0.0018) (6.7,-0.0003) (6.9,0.0037) (7.1,-0.0014) (7.3,0.0009) (7.5,-0.0033) (7.7,0.0024) (7.9,-0.0019)
(8.1,0.0001) (8.3,-0.0038) (8.5,0.0015) (8.7,-0.0008) (8.9,0.0031) (9.1,-0.0023) (9.3,0.0011) (9.5,-0.0029) (9.7,0.0040) (9.9,-0.0005)
(10.1,0.0016) (10.3,-0.0012) (10.5,0.0021) (10.7,-0.0028) (10.9,0.0002) (11.1,-0.0009) (11.3,0.0027) (11.5,-0.0016) (11.7,0.0006) (11.9,-0.0024)
(12.1,0.0014) (12.3,-0.0001) (12.5,0.0023) (12.7,-0.0019) (12.9,0.0010) (13.1,-0.0031) (13.3,0.0004) (13.5,-0.0014) (13.7,0.0018) (13.9,-0.0007)
(14.1,0.0005) (14.3,-0.0020) (14.5,0.0015) (14.7,-0.0003) (14.9,0.0029) (15.1,-0.0011) (15.3,0.0007) (15.5,-0.0026) (15.7,0.0019) (15.9,-0.0015)
(16.1,0.0001) (16.3,-0.0030) (16.5,0.0012) (16.7,-0.0006) (16.9,0.0024) (17.1,-0.0018) (17.3,0.0009) (17.5,-0.0022) (17.7,0.0031) (17.9,-0.0004)
(18.1,0.0016) (18.3,-0.0012) (18.5,0.0021) (18.7,-0.0028) (18.9,0.0002) (19.1,-0.0009) (19.3,0.0027) (19.5,-0.0016) (19.7,0.0006) (19.9,-0.0024)
(20.1,0.0010) (20.3,-0.0001) (20.5,0.0017) (20.7,-0.0014) (20.9,0.0007) (21.1,-0.0023) (21.3,0.0003) (21.5,-0.0010) (21.7,0.0013) (21.9,-0.0005)
(22.1,0.0004) (22.3,-0.0015) (22.5,0.0011) (22.7,-0.0002) (22.9,0.0021) (23.1,-0.0008) (23.3,0.0005) (23.5,-0.0019) (23.7,0.0014) (23.9,-0.0011)
(24.1,0.0000) (24.3,-0.0022) (24.5,0.0009) (24.7,-0.0005) (24.9,0.0018) (25.1,-0.0013) (25.3,0.0006) (25.5,-0.0016) (25.7,0.0023) (25.9,-0.0003)
(26.1,0.0012) (26.3,-0.0009) (26.5,0.0015) (26.7,-0.0020) (26.9,0.0001) (27.1,-0.0006) (27.3,0.0019) (27.5,-0.0012) (27.7,0.0004) (27.9,-0.0017)
(28.1,0.0010) (28.3,-0.0001) (28.5,0.0017) (28.7,-0.0014) (28.9,0.0007) (29.1,-0.0023) (29.3,0.0003) (29.5,-0.0010) (29.7,0.0013) (29.9,-0.0005)
(30.1,0.0003) (30.3,-0.0011) (30.5,0.0008) (30.7,-0.0001) (30.9,0.0016) (31.1,-0.0006) (31.3,0.0004) (31.5,-0.0014) (31.7,0.0010) (31.9,-0.0008)
(32.1,0.0000) (32.3,-0.0016) (32.5,0.0006) (32.7,-0.0003) (32.9,0.0013) (33.1,-0.0010) (33.3,0.0005) (33.5,-0.0012) (33.7,0.0017) (33.9,-0.0002)
(34.1,0.0009) (34.3,-0.0007) (34.5,0.0012) (34.7,-0.0015) (34.9,0.0001) (35.1,-0.0005) (35.3,0.0015) (35.5,-0.0009) (35.7,0.0003) (35.9,-0.0013)
(36.1,0.0007) (36.3,-0.0001) (36.5,0.0012) (36.7,-0.0010) (36.9,0.0006) (37.1,-0.0017) (37.3,0.0002) (37.5,-0.0008) (37.7,0.0010) (37.9,-0.0004)
(38.1,0.0003) (38.3,-0.0011) (38.5,0.0008) (38.7,-0.0001) (38.9,0.0016) (39.1,-0.0006) (39.3,0.0004) (39.5,-0.0014) (39.7,0.0010) (39.9,-0.0008)
(40.1,0.0000) (40.3,-0.0016) (40.5,0.0006) (40.7,-0.0003) (40.9,0.0013) (41.1,-0.0010) (41.3,0.0005) (41.5,-0.0012) (41.7,0.0017) (41.9,-0.0002)
(42.1,0.0009) (42.3,-0.0007) (42.5,0.0012) (42.7,-0.0015) (42.9,0.0001) (43.1,-0.0005) (43.3,0.0015) (43.5,-0.0009) (43.7,0.0003) (43.9,-0.0013)
(44.1,0.0007) (44.3,-0.0001) (44.5,0.0012)
};
\addplot[zero] coordinates {(0,0) (60,0)};
\node[stat] at (axis cs:58.7,0.0081) {R²=0,9996};
\node[stat] at (axis cs:59.5,-0.0129) {\chisq=1,05E-5};
\end{axis}

% ---------------- residuals: part. hydr. 350 nm ----------------
\begin{axis}[panel, at={(0pt,-351.6pt)}, height=61.6pt,
  ymin=-0.0553, ymax=0.0539,
  ytick={-0.05,0,0.05}, yticklabels={{-0,05},{0,00},{0,05}}, minor ytick={-0.025,0.025},
  ylabel={Residual},
  ylabel style={font=\fontsize{10.8}{12}\selectfont, at={(axis description cs:-0.1078,0.98)}, anchor=center}]
\addplot[res, pred] coordinates {
(0.0,-0.050) (0.1,0.012) (0.2,-0.022) (0.3,0.022) (0.4,-0.037) (0.5,-0.005) (0.6,-0.029) (0.7,0.002) (0.8,-0.044) (0.9,0.015)
(1.0,-0.014) (1.1,0.007) (1.2,-0.014) (1.3,0.013) (1.4,-0.007) (1.5,-0.001) (1.6,-0.018) (1.7,0.008) (1.8,-0.009) (1.9,0.002)
(2.0,-0.015) (2.1,0.013) (2.2,-0.001) (2.3,0.006) (2.4,-0.009) (2.5,0.002) (2.6,-0.005) (2.7,0.010) (2.8,0.000) (2.9,0.006)
(3.0,-0.010) (3.1,0.004) (3.2,-0.006) (3.3,0.009) (3.4,-0.002) (3.5,0.002) (3.6,-0.008) (3.7,0.007) (3.8,-0.004) (3.9,0.011)
(4.0,-0.001) (4.1,0.008) (4.2,-0.001) (4.3,0.010) (4.4,-0.005) (4.5,0.003) (4.6,-0.003) (4.7,0.005) (4.8,-0.007) (4.9,0.008)
(5.0,0.001) (5.1,0.006) (5.2,-0.004) (5.3,0.010) (5.4,0.000) (5.5,0.002) (5.6,-0.006) (5.7,0.007) (5.8,-0.002) (5.9,0.004)
(6.0,-0.005) (6.1,0.011) (6.2,0.000) (6.3,0.006) (6.4,-0.005) (6.5,0.003) (6.6,-0.003) (6.7,0.009) (6.8,0.001) (6.9,0.006)
(7.0,-0.006) (7.1,0.005) (7.2,-0.003) (7.3,0.008) (7.4,0.000) (7.5,0.003) (7.6,-0.004) (7.7,0.007) (7.8,-0.002) (7.9,0.009)
(8.0,0.001) (8.1,0.001) (8.2,0.003) (8.3,-0.002) (8.4,0.006) (8.5,0.001) (8.6,0.004) (8.7,-0.001) (8.8,0.009) (8.9,0.002)
(9.0,0.005) (9.1,-0.002) (9.2,0.004) (9.3,0.000) (9.4,0.008) (9.5,0.003) (9.6,0.006) (9.7,-0.003) (9.8,0.005) (9.9,-0.001)
(10.0,0.007) (10.1,0.002) (10.2,0.004) (10.3,-0.001) (10.4,0.006) (10.5,0.000) (10.6,0.008) (10.7,0.002) (10.8,0.007) (10.9,0.001)
(11.0,0.008) (11.1,-0.002) (11.2,0.004) (11.3,0.000) (11.4,0.005) (11.5,-0.003) (11.6,0.007) (11.7,0.002) (11.8,0.006) (11.9,-0.001)
(12.0,0.008) (12.1,0.006) (12.2,0.001) (12.3,0.004) (12.4,-0.001) (12.5,0.002) (12.6,0.000) (12.7,0.005) (12.8,0.002) (12.9,0.004)
(13.0,-0.002) (13.1,0.003) (13.2,0.000) (13.3,0.005) (13.4,0.001) (13.5,0.002) (13.6,-0.001) (13.7,0.004) (13.8,0.000) (13.9,0.005)
(14.0,0.001) (14.1,0.004) (14.2,0.001) (14.3,0.006) (14.4,-0.001) (14.5,0.003) (14.6,0.000) (14.7,0.003) (14.8,-0.002)
(0.1,0.033) (0.4,0.040) (0.7,0.041) (0.2,-0.045) (0.5,-0.038) (0.3,0.028) (0.9,-0.027) (1.1,-0.024) (1.2,0.022) (1.5,0.020)
(2.6,0.019) (2.6,-0.026) (2.3,0.016) (3.0,-0.014) (1.7,-0.021) (0.8,0.025) (5.5,0.012) (6.6,0.012) (7.2,0.011) (10.2,0.011)
(12.0,0.009) (3.8,-0.013) (2.1,-0.017) (0.6,0.030) (0.3,-0.032) (1.4,0.017) (1.9,-0.012)
};
\addplot[res, pred] coordinates {
(0.1,-0.002) (0.3,-0.017) (0.5,0.004) (0.7,-0.007) (0.9,0.012) (1.1,-0.0056) (1.3,0.0003) (1.5,-0.0107) (1.7,0.0044) (1.9,-0.0071)
(2.1,0.0011) (2.3,-0.0056) (2.5,0.0036) (2.7,-0.0004) (2.9,0.0063) (3.1,-0.0029) (3.3,0.0029) (3.5,-0.0039) (3.7,0.0078) (3.9,0.0002)
(4.1,0.0046) (4.3,0.0000) (4.5,0.0055) (4.7,-0.0026) (4.9,0.0023) (5.1,0.0006) (5.3,0.0064) (5.5,-0.0006) (5.7,0.0029) (5.9,-0.0019)
(6.1,0.0042) (6.3,0.0018) (6.5,0.0057) (6.7,-0.0011) (6.9,0.0037) (7.1,-0.0031) (7.3,0.0026) (7.5,-0.0003) (7.7,0.0050) (7.9,0.0008)
(8.1,0.0035) (8.3,0.0008) (8.5,0.0046) (8.7,0.0027) (8.9,0.0061) (9.1,0.0018) (9.3,0.0038) (9.5,0.0002) (9.7,0.0051) (9.9,0.0013)
(10.1,0.0031) (10.3,-0.0003) (10.5,0.0043) (10.7,0.0023) (10.9,0.0056) (11.1,0.0011) (11.3,0.0040) (11.5,0.0006) (11.7,0.0064) (11.9,0.0026)
(12.1,0.0032) (12.3,0.0011) (12.5,0.0035) (12.7,0.0000) (12.9,0.0021) (13.1,0.0014) (13.3,0.0039) (13.5,0.0008) (13.7,0.0024) (13.9,0.0003)
(14.1,0.0030) (14.3,0.0019) (14.5,0.0037) (14.7,0.0006)
};
\addplot[zero] coordinates {(0,0) (60,0)};
\node[stat] at (axis cs:58.7,0.017) {R²=0,9994};
\node[stat] at (axis cs:59.5,-0.022) {\chisq=4,19E-5};
\end{axis}

% ---------------- residuals: DMF 350 nm ----------------
\begin{axis}[panel, at={(0pt,-413.2pt)}, height=62.4pt,
  ymin=-0.025, ymax=0.0246,
  ytick={-0.02,0,0.02}, yticklabels={{-0,02},{0,00},{0,02}}, minor ytick={-0.01,0.01},
  xticklabels={0,10,20,30,40,50,60},
  xticklabel style={font=\fontsize{8.4}{10}\selectfont},
  xlabel={Time (ns)},
  xlabel style={font=\fontsize{10.8}{12}\selectfont, at={(axis description cs:0.5,0)}, anchor=center, yshift=-24.4pt}]
\addplot[res, black] coordinates {
(0.0,0.012) (0.1,0.004) (0.2,-0.010) (0.3,0.011) (0.4,-0.004) (0.5,0.001) (0.6,-0.011) (0.7,0.008) (0.8,-0.007) (0.9,0.013)
(1.0,-0.002) (1.1,0.007) (1.2,-0.004) (1.3,0.010) (1.4,-0.009) (1.5,0.002) (1.6,-0.006) (1.7,0.004) (1.8,-0.011) (1.9,0.008)
(2.0,-0.001) (2.1,0.005) (2.2,-0.007) (2.3,0.009) (2.4,-0.003) (2.5,0.001) (2.6,-0.010) (2.7,0.006) (2.8,-0.005) (2.9,0.003)
(3.0,-0.008) (3.1,0.006) (3.2,-0.001) (3.3,0.002) (3.4,-0.005) (3.5,0.001) (3.6,-0.003) (3.7,0.005) (3.8,0.000) (3.9,0.003)
(4.0,-0.006) (4.1,0.002) (4.2,-0.004) (4.3,0.004) (4.4,-0.001) (4.5,0.001) (4.6,-0.004) (4.7,0.003) (4.8,-0.003) (4.9,0.005)
(5.0,-0.001) (5.1,0.004) (5.2,-0.002) (5.3,0.005) (5.4,-0.005) (5.5,0.001) (5.6,-0.003) (5.7,0.002) (5.8,-0.006) (5.9,0.004)
(6.0,-0.001) (6.1,0.002) (6.2,-0.002) (6.3,0.003) (6.4,-0.001) (6.5,0.001) (6.6,-0.003) (6.7,0.002) (6.8,-0.001) (6.9,0.001)
(7.0,-0.002) (7.1,0.004) (7.2,0.000) (7.3,0.002) (7.4,-0.002) (7.5,0.001) (7.6,-0.001) (7.7,0.003) (7.8,0.000) (7.9,0.002)
(8.0,-0.003) (8.1,0.001) (8.2,-0.002) (8.3,0.003) (8.4,0.000) (8.5,0.001) (8.6,-0.002) (8.7,0.002) (8.8,-0.001) (8.9,0.003)
(9.0,0.000) (9.1,0.003) (9.2,-0.001) (9.3,0.004) (9.4,-0.002) (9.5,0.001) (9.6,-0.001) (9.7,0.002) (9.8,-0.003) (9.9,0.003)
(10.0,0.000) (10.1,0.001) (10.2,-0.001) (10.3,0.002) (10.4,-0.002) (10.5,0.000) (10.6,-0.001) (10.7,0.001) (10.8,-0.002) (10.9,0.002)
(11.0,0.000) (11.1,0.001) (11.2,-0.001) (11.3,0.002) (11.4,-0.001) (11.5,0.000) (11.6,-0.002) (11.7,0.001) (11.8,-0.001) (11.9,0.001)
(12.0,-0.002) (12.1,0.002) (12.2,0.000) (12.3,0.001) (12.4,-0.002) (12.5,0.000) (12.6,-0.001) (12.7,0.002) (12.8,0.000) (12.9,0.001)
(13.0,-0.002) (13.1,0.001) (13.2,-0.001) (13.3,0.001) (13.4,-0.001) (13.5,0.000) (13.6,-0.002) (13.7,0.001) (13.8,-0.001) (13.9,0.002)
(14.0,0.000) (14.1,0.001) (14.2,-0.001) (14.3,0.002) (14.4,-0.002) (14.5,0.000) (14.6,-0.001) (14.7,0.001) (14.8,-0.002) (14.9,0.002)
(15.0,0.000) (15.1,0.001) (15.2,-0.001) (15.3,0.001) (15.4,0.000) (15.5,-0.001) (15.6,0.001) (15.7,0.000) (15.8,-0.001) (15.9,0.001)
(16.0,-0.001) (16.1,0.000) (16.2,0.001) (16.3,-0.001) (16.4,0.001) (16.5,0.000) (16.6,-0.001) (16.7,0.001) (16.8,0.000) (16.9,-0.001)
(17.0,0.001) (17.1,-0.001) (17.2,0.000) (17.3,0.001) (17.4,-0.001) (17.5,0.001) (17.6,0.000) (17.7,-0.001) (17.8,0.001) (17.9,0.000)
(18.0,-0.001) (18.1,0.001) (18.2,-0.001) (18.3,0.000) (18.4,0.001) (18.5,-0.001) (18.6,0.001) (18.7,0.000) (18.8,-0.001) (18.9,0.001)
(19.0,0.000) (19.1,-0.001) (19.2,0.001) (19.3,-0.001) (19.4,0.000) (19.5,0.001) (19.6,-0.001) (19.7,0.001) (19.8,0.000) (19.9,-0.001)
(20.0,0.001) (20.1,0.000) (20.2,-0.001) (20.3,0.001) (20.4,0.000)
(0.4,-0.023) (1.3,0.0227) (0.8,0.019) (1.0,0.020) (0.6,0.018) (1.4,-0.021) (1.9,-0.021) (1.7,-0.018) (2.3,0.015) (3.2,0.012)
(3.4,0.011) (3.5,-0.009) (2.0,0.010) (4.9,0.007) (0.2,0.016) (0.3,-0.018) (0.9,-0.016) (1.2,-0.015) (2.6,-0.012) (0.5,0.013)
(2.8,0.011) (0.1,-0.014) (0.7,-0.017) (1.6,0.014) (3.9,-0.008) (5.8,0.005)
};
\addplot[res, black] coordinates {
(0.1,-0.0032) (0.3,0.0020) (0.5,-0.0076) (0.7,0.0056) (0.9,-0.0044) (1.1,0.0001) (1.3,-0.0060) (1.5,0.0024) (1.7,-0.0013) (1.9,0.0048)
(2.1,-0.0036) (2.3,0.0018) (2.5,-0.0045) (2.7,0.0063) (2.9,-0.0007) (3.1,0.0018) (3.3,-0.0013) (3.5,0.0023) (3.7,-0.0031) (3.9,0.0002)
(4.1,-0.0009) (4.3,0.0029) (4.5,-0.0018) (4.7,0.0006) (4.9,-0.0026) (5.1,0.0015) (5.3,-0.0001) (5.5,0.0025) (5.7,-0.0021) (5.9,0.0011)
(6.1,-0.0020) (6.3,0.0003) (6.5,-0.0009) (6.7,0.0012) (6.9,-0.0005) (7.1,0.0003) (7.3,-0.0013) (7.5,0.0009) (7.7,-0.0002) (7.9,0.0018)
(8.1,-0.0007) (8.3,0.0004) (8.5,-0.0017) (8.7,0.0012) (8.9,-0.0010) (9.1,0.0000) (9.3,-0.0019) (9.5,0.0008) (9.7,-0.0004) (9.9,0.0015)
(10.1,-0.0007) (10.3,0.0004) (10.5,-0.0009) (10.7,0.0012) (10.9,-0.0001) (11.1,0.0006) (11.3,-0.0005) (11.5,0.0008) (11.7,-0.0011) (11.9,0.0001)
(12.1,-0.0003) (12.3,0.0011) (12.5,-0.0006) (12.7,0.0002) (12.9,-0.0009) (13.1,0.0005) (13.3,0.0000) (13.5,0.0009) (13.7,-0.0008) (13.9,0.0004)
(14.1,-0.0012) (14.3,0.0002) (14.5,-0.0005) (14.7,0.0007) (14.9,-0.0003) (15.1,0.0001) (15.3,-0.0006) (15.5,0.0004) (15.7,-0.0001) (15.9,0.0008)
(16.1,-0.0003) (16.3,0.0002) (16.5,-0.0007) (16.7,0.0005) (16.9,-0.0004) (17.1,0.0000) (17.3,-0.0008) (17.5,0.0003) (17.7,-0.0002) (17.9,0.0007)
(18.1,-0.0005) (18.3,0.0002) (18.5,-0.0006) (18.7,0.0009) (18.9,-0.0001) (19.1,0.0004) (19.3,-0.0003) (19.5,0.0006) (19.7,-0.0008) (19.9,0.0001)
(20.1,-0.0002) (20.3,0.0007)
};
\addplot[zero] coordinates {(0,0) (60,0)};
\node[stat] at (axis cs:58.7,0.0054) {R²=0,9982};
\node[stat] at (axis cs:59.5,-0.009) {\chisq=1,26E-5};
\end{axis}
\end{tikzpicture}
\end{document}
